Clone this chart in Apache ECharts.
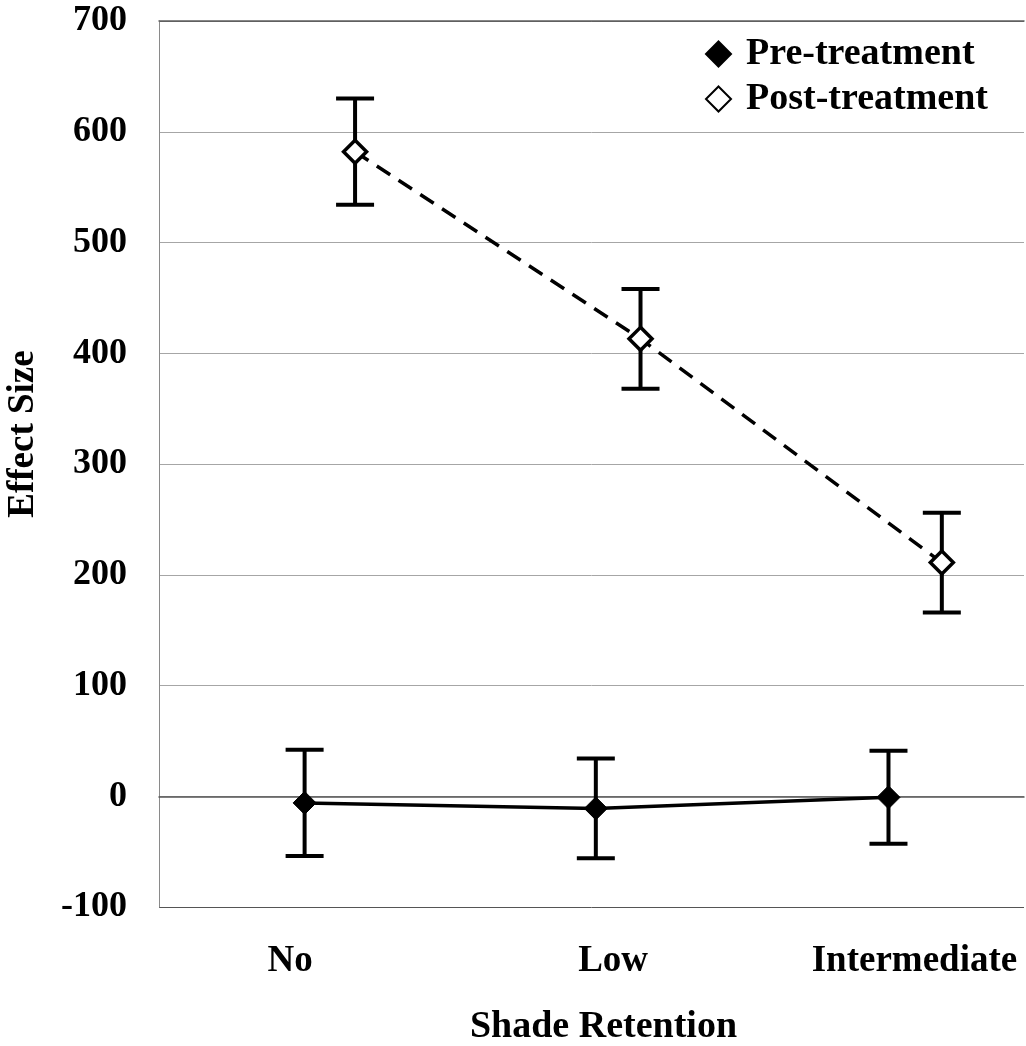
<!DOCTYPE html>
<html>
<head>
<meta charset="utf-8">
<script src="https://cdn.jsdelivr.net/npm/echarts@6/dist/echarts.min.js"></script>
<style>
html,body{margin:0;padding:0;background:#fff;}
#chart{width:1026px;height:1046px;}
</style>
</head>
<body>
<div id="chart"></div>
<script>
// ---- data ----
const categories = ['No', 'Low', 'Intermediate'];
const categoryPos = [0.455, 1.575, 2.62];
const preX = [0.505, 1.515, 2.53];
const postX = [0.68, 1.67, 2.715];
const preMean = [-6, -11, -1];
const preErr = [48, 45, 42];
const postMean = [582, 413, 211];
const postErr = [48, 45, 45];
const yMin = -100, yMax = 700, yStep = 100;

const FONT = '"Liberation Serif", "Times New Roman", serif';

function errData(xs, means, errs) {
  return xs.map((x, i) => [x, means[i] - errs[i], means[i] + errs[i]]);
}
function pts(xs, ys) { return xs.map((x, i) => [x, ys[i]]); }

function renderErr(params, api) {
  const x = api.value(0), lo = api.value(1), hi = api.value(2);
  const a = api.coord([x, hi]), b = api.coord([x, lo]);
  const h = 19;
  const st = { stroke: '#000', lineWidth: 4 };
  return {
    type: 'group',
    children: [
      { type: 'line', shape: { x1: a[0], y1: a[1], x2: b[0], y2: b[1] }, style: st },
      { type: 'line', shape: { x1: a[0] - h, y1: a[1], x2: a[0] + h, y2: a[1] }, style: st },
      { type: 'line', shape: { x1: b[0] - h, y1: b[1], x2: b[0] + h, y2: b[1] }, style: st }
    ]
  };
}

const gridColors = ['#555555'];
for (let v = yMin + yStep; v < yMax; v += yStep) gridColors.push('#a6a6a6');
gridColors.push('#606060');

const chart = echarts.init(document.getElementById('chart'), null, { renderer: 'canvas' });
chart.setOption({
  animation: false,
  backgroundColor: '#fff',
  textStyle: { fontFamily: FONT },
  grid: { left: 159, right: 2, top: 21, bottom: 139, containLabel: false, outerBoundsMode: 'none' },
  legend: {
    data: ['Pre-treatment', 'Post-treatment'],
    orient: 'vertical',
    left: 705, top: 35, padding: 0,
    itemWidth: 25, itemHeight: 25, itemGap: 7,
    icon: 'diamond',
    textStyle: { fontFamily: FONT, fontSize: 38, fontWeight: 'bold', color: '#000', lineHeight: 38, padding: [0, 0, 0, 10] }
  },
  xAxis: [{
    type: 'value', min: 0, max: 3,
    name: 'Shade Retention', nameLocation: 'middle', nameGap: 101,
    nameTextStyle: { fontFamily: FONT, fontSize: 38, fontWeight: 'bold', color: '#000', padding: [0, 0, 0, 24] },
    axisLine: { show: true, lineStyle: { color: '#555', width: 1.5 } },
    axisTick: { show: false },
    splitLine: { show: false },
    axisLabel: {
      customValues: categoryPos,
      margin: 36,
      fontFamily: FONT, fontSize: 37, fontWeight: 'bold', color: '#000',
      formatter: function (v) {
        let best = 0;
        categoryPos.forEach((p, i) => { if (Math.abs(p - v) < Math.abs(categoryPos[best] - v)) best = i; });
        return categories[best];
      }
    }
  }, {
    type: 'value', min: 0, max: 3, position: 'top',
    axisLine: { show: true, lineStyle: { color: '#606060', width: 1.5 } },
    axisTick: { show: false }, axisLabel: { show: false }, splitLine: { show: false }
  }],
  yAxis: {
    type: 'value', min: yMin, max: yMax, interval: yStep,
    name: 'Effect Size', nameLocation: 'middle', nameGap: 117,
    nameTextStyle: { fontFamily: FONT, fontSize: 37, fontWeight: 'bold', color: '#000', padding: [0, 0, 0, 60] },
    axisLine: { show: true, lineStyle: { color: '#8a8a8a', width: 1 } },
    axisTick: { show: false },
    splitLine: { show: true, lineStyle: { color: gridColors, width: 1 } },
    axisLabel: { margin: 32, fontFamily: FONT, fontSize: 36, fontWeight: 'bold', color: '#000' }
  },
  series: [
    {
      name: 'Pre error', type: 'custom', z: 2,
      renderItem: renderErr, encode: { x: 0, y: [1, 2] },
      data: errData(preX, preMean, preErr), silent: true
    },
    {
      name: 'Post error', type: 'custom', z: 2,
      renderItem: renderErr, encode: { x: 0, y: [1, 2] },
      data: errData(postX, postMean, postErr), silent: true
    },
    {
      name: 'Pre-treatment', type: 'line', z: 3,
      data: pts(preX, preMean),
      symbol: 'diamond', symbolSize: 23,
      itemStyle: { color: '#000', borderColor: '#000', borderWidth: 1 },
      lineStyle: { color: '#000', width: 3.5, type: 'solid' }
    },
    {
      name: 'Post-treatment', type: 'line', z: 3,
      data: pts(postX, postMean),
      symbol: 'diamond', symbolSize: 23,
      itemStyle: { color: '#fff', borderColor: '#000', borderWidth: 3.5 },
      lineStyle: { color: '#000', width: 3.5, type: [16, 10] }
    }
  ]
});
</script>
</body>
</html>
